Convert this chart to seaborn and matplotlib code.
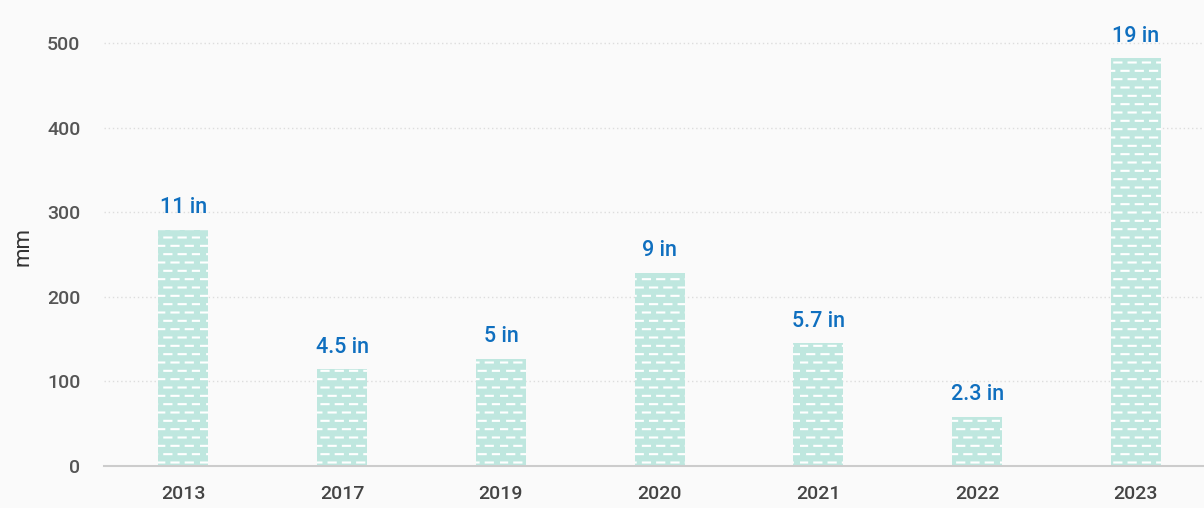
import numpy as np
import pandas as pd
import matplotlib
matplotlib.use("Agg")
import matplotlib.pyplot as plt
from matplotlib import hatch as mhatch
from matplotlib.path import Path
import seaborn as sns

# ---- data ----
years = ["2013", "2017", "2019", "2020", "2021", "2022", "2023"]
rain_mm = [279.4, 114.3, 127.0, 228.6, 144.8, 58.4, 482.6]
labels_in = ["11 in", "4.5 in", "5 in", "9 in", "5.7 in", "2.3 in", "19 in"]
y_ticks = [0, 100, 200, 300, 400, 500]


# ---- custom dashed horizontal hatch (replaces '-' hatch) ----
class DashedHorizontalHatch(mhatch.HatchPatternBase):
    NDASH = 7

    def __init__(self, hatch, density):
        self.num_lines = int((hatch.count('-') + hatch.count('+')) * density)
        self.num_vertices = self.num_lines * self.NDASH * 2

    def set_vertices_and_codes(self, vertices, codes):
        steps, stepsize = np.linspace(0.0, 1.0, self.num_lines, False, retstep=True)
        steps += stepsize / 2.0
        period = 1.0 / self.NDASH
        dash = period * 0.5
        k = 0
        for i, yv in enumerate(steps):
            off = (period / 2.0) * (i % 2)
            for j in range(self.NDASH):
                x0 = (j * period + off) % 1.0
                x1 = x0 + dash
                vertices[k] = (x0, yv)
                codes[k] = Path.MOVETO
                vertices[k + 1] = (min(x1, 1.0), yv)
                codes[k + 1] = Path.LINETO
                k += 2


mhatch._hatch_types[0] = DashedHorizontalHatch

sns.set_theme(style="white")
plt.rcParams["font.family"] = ["Roboto", "DejaVu Sans"]
plt.rcParams["hatch.linewidth"] = 1.5
plt.rcParams["hatch.color"] = "white"

BG = "#fafafa"
df = pd.DataFrame({"year": years, "mm": rain_mm})

fig = plt.figure(figsize=(12.04, 5.08), dpi=100, facecolor=BG)
ax = fig.add_axes([104 / 1204, 42 / 508, 1100 / 1204, 440 / 508])
ax.set_facecolor(BG)

sns.barplot(data=df, x="year", y="mm", color="#bfe7df", saturation=1,
            width=0.315, ax=ax, edgecolor="white", linewidth=0, hatch="--")
for p in ax.patches:
    p.set_hatch("--")
    p.set_edgecolor("white")
    p.set_linewidth(0)

ax.set_xlim(-0.5, -0.5 + 1100 / 158.75)
ax.set_ylim(0, 520)
ax.set_yticks(y_ticks)

for i, (v, lab) in enumerate(zip(rain_mm, labels_in)):
    ax.annotate(lab, (i, v), xytext=(0, 8), textcoords="offset points",
                ha="center", va="bottom", fontsize=15.5, fontweight="medium",
                color="#0f6fbf")

ax.grid(axis="y", color="#dddddd", linestyle=(0, (1, 2)), linewidth=1)
ax.set_axisbelow(True)
for s in ["top", "right", "left"]:
    ax.spines[s].set_visible(False)
ax.spines["bottom"].set_color("#cccccc")
ax.spines["bottom"].set_linewidth(1.5)

ax.tick_params(axis="y", length=0, pad=17, labelsize=14, labelcolor="#555555")
ax.tick_params(axis="x", length=0, pad=14, labelsize=14, labelcolor="#444444")
for t in ax.get_xticklabels() + ax.get_yticklabels():
    t.set_fontweight("medium")
ax.set_xlabel("")
ax.set_ylabel("mm", fontsize=16, color="#333333", labelpad=10)

fig.savefig("out.png", dpi=100, facecolor=BG)
